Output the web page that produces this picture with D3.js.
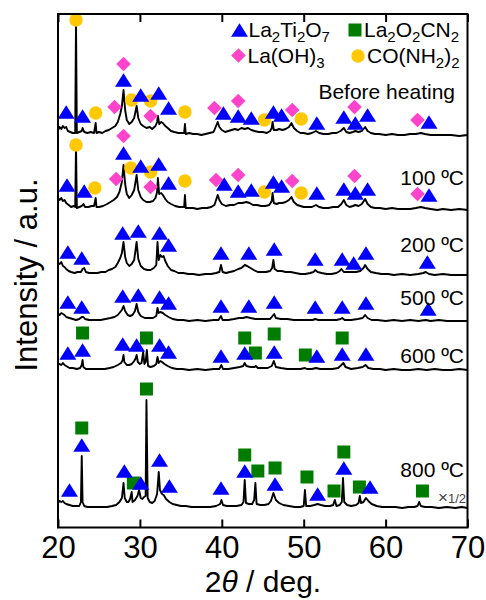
<!DOCTYPE html>
<head>
  <meta charset="utf-8">
  <title>XRD patterns</title>
  <style>
    body { margin: 0; background: #fff; }
    .axis .domain { display: none; }
    .axis line { stroke: #000; stroke-width: 2; }
    text { font-family: "Liberation Sans", Arial, sans-serif; fill: #000; }
  </style>
</head>
<body>
  <svg id="chart" width="486" height="600"></svg>
  <script src="https://d3js.org/d3.v7.min.js"></script>
  <script>
    /******* Data (2theta in deg, intensity in a.u. above each trace's own baseline) *******/

    var traceNames = ["Before heating", "100 ºC", "200 ºC", "500 ºC", "600 ºC", "800 ºC"];

    var beforeHeating = [[20.0,6],[20.2,9],[20.4,7],[20.6,10],[20.8,8],[21.0,9],[21.2,5],[21.5,4],[21.8,3],[22.1,3],[22.2,116],[22.3,3],[22.6,4],[22.9,5],[23.0,8],[23.2,4],[23.6,3],[24.0,4],[24.4,3],[24.6,13],[24.7,3],[25.0,4],[25.4,3],[25.8,5],[26.2,6],[26.6,8],[27.0,10],[27.3,14],[27.6,22],[27.8,30],[28.0,46],[28.2,26],[28.4,16],[28.7,12],[29.0,14],[29.3,18],[29.6,30],[29.8,18],[30.1,12],[30.4,10],[30.8,8],[31.2,9],[31.5,7],[31.9,10],[32.1,14],[32.2,20],[32.35,12],[32.6,14],[32.8,13],[33.1,10],[33.4,8],[33.8,5],[34.2,4],[34.7,3],[35.1,3],[35.4,3],[35.5,12],[35.6,2],[36.0,3],[36.5,2],[37.0,2],[37.5,1],[38.0,2],[38.5,3],[39.0,4],[39.3,10],[39.5,14],[39.7,9],[40.0,6],[40.4,4],[40.8,5],[41.2,6],[41.6,7],[42.0,6],[42.4,8],[42.8,7],[43.2,8],[43.6,6],[44.0,5],[44.5,4],[45.0,4],[45.5,3],[45.9,5],[46.1,8],[46.2,14],[46.35,6],[46.7,6],[47.0,7],[47.4,6],[47.8,7],[48.2,9],[48.5,13],[48.8,8],[49.2,5],[49.6,3],[50.0,3],[50.5,2],[51.0,3],[51.5,5],[51.9,3],[52.4,2],[53.0,2],[53.5,3],[54.0,3],[54.5,5],[54.9,8],[55.2,4],[55.6,3],[56.0,4],[56.3,5],[56.7,4],[57.1,5],[57.5,9],[57.8,5],[58.2,3],[58.7,2],[59.2,2],[60.0,1],[60.8,2],[61.5,1],[62.3,1],[63.0,2],[63.7,2],[64.3,3],[64.8,2],[65.5,1],[66.3,1],[67.0,1],[68.0,1],[69.0,0],[70.0,1]];

    var heated100 = [[20.0,12],[20.2,10],[20.4,12],[20.6,9],[20.8,10],[21.0,7],[21.3,5],[21.6,3],[21.9,4],[22.1,3],[22.2,65],[22.3,2],[22.6,3],[22.9,4],[23.1,6],[23.3,3],[23.7,3],[24.1,4],[24.4,4],[24.6,12],[24.7,3],[25.0,3],[25.5,4],[26.0,6],[26.4,8],[26.8,10],[27.2,13],[27.5,18],[27.8,28],[28.0,45],[28.2,26],[28.4,16],[28.7,12],[29.0,15],[29.3,20],[29.6,35],[29.8,20],[30.1,13],[30.4,10],[30.8,8],[31.2,8],[31.6,9],[31.9,12],[32.1,18],[32.2,32],[32.35,16],[32.6,17],[32.8,15],[33.1,11],[33.4,8],[33.8,6],[34.3,4],[34.8,3],[35.2,3],[35.4,3],[35.5,15],[35.6,2],[36.0,2],[36.5,2],[37.0,1],[37.6,2],[38.2,2],[38.7,3],[39.1,5],[39.3,10],[39.5,15],[39.7,10],[40.0,6],[40.5,4],[41.0,5],[41.5,5],[42.0,7],[42.5,7],[43.0,8],[43.4,7],[43.8,5],[44.3,5],[44.8,4],[45.3,4],[45.8,5],[46.1,9],[46.2,17],[46.35,7],[46.7,6],[47.0,7],[47.4,7],[47.8,8],[48.2,10],[48.5,13],[48.8,8],[49.2,5],[49.6,4],[50.0,3],[50.5,3],[51.0,3],[51.5,5],[51.9,3],[52.4,2],[53.0,2],[53.6,3],[54.2,3],[54.6,6],[54.9,10],[55.2,5],[55.6,3],[56.0,4],[56.3,5],[56.7,4],[57.1,6],[57.5,11],[57.8,6],[58.2,3],[58.7,2],[59.3,2],[60.0,1],[60.8,2],[61.5,1],[62.3,1],[63.0,1],[63.7,2],[64.3,3],[64.8,2],[65.5,1],[66.3,0],[67.0,1],[68.0,0],[69.0,1],[70.0,0]];

    var heated200 = [[20.0,12],[20.2,11],[20.4,13],[20.6,9],[20.8,8],[21.0,6],[21.3,4],[21.6,3],[22.0,2],[22.4,3],[22.8,3],[23.0,6],[23.2,7],[23.4,3],[23.8,2],[24.3,2],[24.8,2],[25.3,3],[25.8,3],[26.2,5],[26.6,6],[27.0,8],[27.3,12],[27.6,17],[27.8,22],[28.0,33],[28.2,18],[28.4,12],[28.7,9],[29.0,11],[29.3,15],[29.6,33],[29.8,16],[30.1,9],[30.5,6],[30.9,5],[31.3,5],[31.7,7],[32.0,10],[32.15,33],[32.3,15],[32.5,20],[32.7,18],[32.9,19],[33.1,14],[33.4,9],[33.8,5],[34.2,4],[34.7,2],[35.3,2],[35.9,1],[36.5,1],[37.2,0],[38.0,1],[38.7,1],[39.3,2],[39.7,3],[39.9,10],[40.1,3],[40.5,2],[41.0,3],[41.5,4],[42.0,6],[42.4,7],[42.8,10],[43.1,9],[43.5,7],[43.9,5],[44.4,3],[44.9,3],[45.4,3],[45.9,4],[46.15,7],[46.3,15],[46.45,6],[46.8,4],[47.3,4],[47.8,3],[48.4,3],[49.0,2],[49.6,1],[50.2,1],[50.8,2],[51.2,3],[51.4,5],[51.7,3],[52.2,2],[52.8,1],[53.4,1],[54.0,2],[54.4,4],[54.6,6],[54.9,3],[55.4,3],[55.9,3],[56.4,3],[56.9,4],[57.3,7],[57.5,10],[57.8,6],[58.2,3],[58.8,2],[59.5,1],[60.3,1],[61.0,0],[62.0,1],[63.0,0],[64.0,1],[64.6,2],[64.9,3],[65.3,1],[66.0,0],[67.0,1],[68.0,0],[69.0,0],[70.0,0]];

    var heated500 = [[20.0,8],[20.2,6],[20.4,8],[20.6,7],[20.8,6],[21.0,4],[21.4,3],[21.8,2],[22.2,1],[22.6,2],[22.9,4],[23.1,4],[23.3,2],[23.8,1],[24.5,1],[25.2,1],[25.8,2],[26.4,3],[26.9,4],[27.3,6],[27.6,9],[27.8,11],[28.0,15],[28.2,10],[28.5,6],[28.8,5],[29.1,6],[29.4,10],[29.6,17],[29.8,9],[30.1,5],[30.6,3],[31.1,3],[31.6,3],[32.0,5],[32.15,13],[32.3,8],[32.5,9],[32.8,8],[33.1,6],[33.5,4],[34.0,2],[34.6,1],[35.3,1],[36.0,0],[37.0,1],[38.0,0],[39.0,1],[39.6,1],[39.9,5],[40.1,1],[40.8,1],[41.5,2],[42.1,3],[42.6,3],[43.0,4],[43.5,3],[44.1,2],[44.8,2],[45.5,2],[45.9,2],[46.2,5],[46.4,7],[46.6,3],[47.2,2],[48.0,2],[48.8,1],[49.6,1],[50.4,1],[51.1,1],[51.4,2],[51.8,1],[52.5,1],[53.3,1],[54.0,1],[54.5,2],[54.7,3],[55.0,1],[55.8,1],[56.6,2],[57.2,3],[57.5,6],[57.8,3],[58.3,1],[59.0,1],[60.0,0],[61.0,1],[62.0,0],[63.0,1],[64.0,0],[64.9,1],[65.5,0],[66.5,1],[67.5,0],[68.5,0],[70.0,0]];

    var heated600 = [[20.0,5],[20.2,6],[20.4,5],[20.6,7],[20.8,5],[21.0,4],[21.4,2],[21.8,2],[22.3,1],[22.7,2],[22.9,5],[23.0,10],[23.1,3],[23.4,1],[23.9,1],[24.5,1],[25.1,1],[25.7,1],[26.3,2],[26.8,3],[27.3,5],[27.7,7],[27.9,10],[28.0,15],[28.1,8],[28.4,5],[28.7,5],[29.0,6],[29.3,9],[29.5,12],[29.6,15],[29.75,8],[30.0,6],[30.2,7],[30.4,18],[30.55,6],[30.7,8],[30.85,20],[31.0,4],[31.3,3],[31.7,4],[32.0,6],[32.15,13],[32.3,7],[32.5,9],[32.7,8],[33.0,6],[33.4,4],[33.9,2],[34.5,1],[35.2,1],[36.0,0],[37.0,1],[38.0,0],[39.0,1],[39.7,1],[39.95,5],[40.15,1],[40.8,1],[41.5,2],[42.2,3],[42.6,4],[42.8,7],[43.0,4],[43.5,3],[44.0,3],[44.15,4],[44.4,2],[45.0,2],[45.6,2],[46.1,4],[46.35,9],[46.6,3],[47.2,2],[48.0,1],[48.8,1],[49.6,1],[50.15,2],[50.4,1],[51.0,1],[51.5,2],[52.0,1],[52.8,1],[53.5,1],[54.2,2],[54.6,5],[54.85,7],[55.1,3],[55.8,1],[56.6,2],[57.2,3],[57.55,5],[57.9,2],[58.5,1],[59.3,1],[60.0,0],[61.0,1],[62.0,0],[63.0,0],[64.0,1],[65.0,0],[66.0,1],[67.0,0],[68.0,0],[69.0,1],[70.0,0]];

    var heated800 = [[20.0,5],[20.2,7],[20.4,6],[20.6,7],[20.8,5],[21.0,4],[21.4,3],[21.8,2],[22.2,2],[22.6,2],[22.8,6],[22.9,52],[23.0,6],[23.2,2],[23.6,1],[24.2,1],[24.8,1],[25.4,1],[26.0,1],[26.6,2],[27.1,3],[27.5,6],[27.8,10],[28.0,25],[28.15,10],[28.4,6],[28.6,6],[28.8,9],[29.0,16],[29.1,6],[29.4,8],[29.7,12],[29.9,18],[30.1,10],[30.3,9],[30.5,11],[30.7,12],[30.8,108],[30.95,10],[31.2,6],[31.5,5],[31.8,7],[32.1,14],[32.3,36],[32.45,18],[32.7,14],[32.9,13],[33.2,9],[33.6,6],[34.0,4],[34.5,3],[35.0,2],[35.6,2],[36.3,1],[37.0,1],[37.8,1],[38.6,1],[39.3,2],[39.8,4],[39.95,8],[40.15,3],[40.6,2],[41.2,2],[41.8,2],[42.4,3],[42.65,6],[42.8,28],[42.95,5],[43.3,4],[43.7,4],[43.95,8],[44.1,25],[44.25,4],[44.7,3],[45.2,3],[45.7,4],[46.0,7],[46.3,15],[46.6,8],[47.0,5],[47.5,3],[48.2,2],[48.9,1],[49.6,1],[50.0,2],[50.15,18],[50.3,2],[50.8,2],[51.3,3],[51.7,4],[52.1,3],[52.6,2],[53.2,2],[53.6,3],[53.8,8],[54.0,2],[54.4,3],[54.65,6],[54.8,30],[54.95,6],[55.3,3],[55.8,2],[56.4,3],[56.7,5],[56.85,12],[57.0,5],[57.3,6],[57.6,10],[57.9,7],[58.3,4],[58.9,2],[59.6,1],[60.4,1],[61.2,1],[62.0,0],[62.8,1],[63.5,1],[63.9,2],[64.1,6],[64.3,2],[64.8,1],[65.6,1],[66.5,0],[67.5,1],[68.5,0],[69.3,1],[70.0,0]];

    var traces = [beforeHeating, heated100, heated200, heated500, heated600, heated800];

    //vertical stacking of the traces (a.u.)
    var offsets = [391.5, 317.5, 252.5, 206.5, 157.5, 19.5];

    //phase markers per trace: [2theta, height above that trace's baseline]
    var tri = [ // La2Ti2O7
      [[21.0,24],[23.0,20],[28.0,56],[30.1,41],[32.3,43],[33.5,28],[40.2,23],[42.0,20],[43.6,18],[46.3,24],[47.3,21],[51.6,13],[54.9,19],[56.3,13],[57.8,21],[65.3,14]],
      [[21.1,25],[23.2,19],[28.0,57],[30.1,44],[32.3,46],[33.5,27],[40.3,26],[42.0,19],[43.6,20],[46.3,28],[47.3,24],[51.6,17],[54.9,21],[56.3,17],[57.8,21],[65.3,15]],
      [[21.2,23],[22.9,17],[27.9,42],[29.8,44],[32.4,42],[33.5,30],[39.9,22],[43.3,22],[46.4,26],[51.4,16],[54.7,16],[56.1,12],[57.6,22],[65.1,13]],
      [[21.2,19],[22.9,14],[27.9,25],[29.8,26],[32.4,24],[33.5,18],[39.9,15],[43.3,15],[46.4,19],[51.4,14],[54.7,14],[57.6,18],[65.2,12]],
      [[21.2,17],[23.0,20],[27.9,26],[29.6,25],[32.4,25],[33.5,18],[39.9,14],[42.8,17],[46.4,18],[51.6,14],[54.7,16],[57.6,16]],
      [[21.4,18],[22.9,63],[28.1,37],[30.1,25],[32.4,48],[33.6,22],[39.9,20],[42.8,37],[46.5,24],[51.7,14],[54.9,40],[58.1,21]]
    ];
    var sqr = [ // La2O2CN2
      [], [], [], [],
      [[23.0,37],[30.8,32],[42.8,32],[44.1,17],[46.4,36],[50.2,15],[54.7,32]],
      [[22.9,80],[29.2,25],[30.8,119],[42.8,53],[44.4,37],[46.5,40],[50.4,31],[53.7,17],[54.9,56],[56.8,21],[64.5,17]]
    ];
    var dia = [ // La(OH)3
      [[26.9,29],[28.0,72],[31.3,20],[39.1,28],[42.0,35],[48.6,26],[56.2,29],[63.9,16]],
      [[27.1,31],[28.0,74],[31.3,23],[39.3,30],[42.0,35],[48.6,29],[56.2,34],[63.9,16]],
      [], [], [], []
    ];
    var circ = [ // CO(NH2)2
      [[22.2,116],[24.6,23],[29.0,36],[31.3,35],[35.5,24],[45.2,16],[49.7,17]],
      [[22.2,65],[24.5,22],[28.9,42],[31.3,38],[35.5,29],[45.2,18],[49.7,17]],
      [], [], [], []
    ];

    var xTicks = [20, 30, 40, 50, 60, 70];

    /******* Setup *******/

    var svg = d3.select("svg"),
        frame = {left: 58, right: 467.5, top: 14, bottom: 527.5};

    var x = d3.scaleLinear().domain([20, 70]).range([frame.left, frame.right]);
    var y = d3.scaleLinear().domain([0, 513.5]).range([frame.bottom, frame.top]);

    var colors = {tri: "#0000ff", sqr: "#007d00", dia: "#ff44cc", circ: "#ffc800"};

    //marker shapes centred on their bounding box
    var shapes = {
      tri: "M0,-6.8L8.5,6.8L-8.5,6.8Z",
      sqr: "M-6.5,-6.5H6.5V6.5H-6.5Z",
      dia: "M0,-7.3L7.3,0L0,7.3L-7.3,0Z",
      circ: "M6.7,0A6.7,6.7 0 1,1 -6.7,0A6.7,6.7 0 1,1 6.7,0Z"
    };

    /******* Traces *******/

    var line = d3.line()
      .x(function(d) { return x(d[0]); })
      .y(function(d) { return y(d[1]); });

    svg.append("g")
      .selectAll("path")
      .data(traces)
      .enter().append("path")
      .attr("fill", "none")
      .attr("stroke", "#000")
      .attr("stroke-width", 1.9)
      .attr("stroke-linejoin", "round")
      .attr("d", function(d, i) {
        return line(d.map(function(p) { return [p[0], p[1] + offsets[i]]; }));
      });

    /******* Markers *******/

    function drawMarkers(sets, kind) {
      sets.forEach(function(set, i) {
        svg.append("g").selectAll("path")
          .data(set)
          .enter().append("path")
          .attr("d", shapes[kind])
          .attr("fill", colors[kind])
          .attr("transform", function(d) {
            return "translate(" + x(d[0]) + "," + y(d[1] + offsets[i]) + ")";
          });
      });
    }
    drawMarkers(dia, "dia");
    drawMarkers(circ, "circ");
    drawMarkers(sqr, "sqr");
    drawMarkers(tri, "tri");

    /******* Trace labels *******/

    var labelY = [99, 185, 252, 305, 363, 477];
    svg.append("g")
      .selectAll("text")
      .data(traceNames)
      .enter().append("text")
      .attr("x", function(d, i) { return i == 0 ? 455 : 464; })
      .attr("y", function(d, i) { return labelY[i]; })
      .attr("text-anchor", "end")
      .attr("font-size", 21)
      .text(function(d) { return d; });

    var half = svg.append("text")
      .attr("x", 466)
      .attr("y", 503)
      .attr("text-anchor", "end")
      .style("fill", "#444")
      .attr("font-size", 17);
    half.append("tspan").text("×");
    half.append("tspan").attr("font-size", 13).text("1/2");

    /******* Legend *******/

    var legendItems = [
      {kind: "tri", x: 239.5, y: 30, parts: [["La", 0], ["2", 1], ["Ti", 0], ["2", 1], ["O", 0], ["7", 1]]},
      {kind: "sqr", x: 355, y: 30, parts: [["La", 0], ["2", 1], ["O", 0], ["2", 1], ["CN", 0], ["2", 1]]},
      {kind: "dia", x: 238.5, y: 55.5, parts: [["La(OH)", 0], ["3", 1]]},
      {kind: "circ", x: 358, y: 56, parts: [["CO(NH", 0], ["2", 1], [")", 0], ["2", 1]]}
    ];

    legendItems.forEach(function(item) {
      svg.append("path")
        .attr("d", shapes[item.kind])
        .attr("fill", colors[item.kind])
        .attr("transform", "translate(" + item.x + "," + item.y + ")");

      var t = svg.append("text")
        .attr("x", item.x + 9)
        .attr("y", item.y + 7)
        .attr("font-size", 21);
      var sub = false;
      item.parts.forEach(function(p) {
        var ts = t.append("tspan").text(p[0]);
        if (p[1] && !sub) { ts.attr("font-size", 15).attr("dy", 5); sub = true; }
        else if (!p[1] && sub) { ts.attr("dy", -5); sub = false; }
        else if (p[1]) { ts.attr("font-size", 15); }
      });
    });

    /******* Axes and frame *******/

    svg.append("g")
      .attr("class", "axis")
      .attr("transform", "translate(0," + frame.bottom + ")")
      .call(d3.axisBottom(x).tickValues(xTicks).tickSize(-8).tickPadding(8).tickFormat(d3.format("d")))
      .call(function(g) {
        g.selectAll("text")
          .attr("font-size", 31)
          .style("font-family", "'Liberation Sans', Arial, sans-serif")
          .attr("fill", "#000");
      });

    svg.append("g")
      .attr("class", "axis")
      .attr("transform", "translate(0," + frame.top + ")")
      .call(d3.axisTop(x).tickValues(xTicks).tickSize(-8).tickFormat(""));

    svg.append("rect")
      .attr("x", frame.left)
      .attr("y", frame.top)
      .attr("width", frame.right - frame.left)
      .attr("height", frame.bottom - frame.top)
      .attr("fill", "none")
      .attr("stroke", "#000")
      .attr("stroke-width", 2);

    var xTitle = svg.append("text")
      .attr("x", 263)
      .attr("y", 592)
      .attr("text-anchor", "middle")
      .attr("font-size", 30);
    xTitle.append("tspan").text("2");
    xTitle.append("tspan").attr("font-style", "italic").text("θ");
    xTitle.append("tspan").text(" / deg.");

    svg.append("text")
      .attr("transform", "translate(37,275) rotate(-90)")
      .attr("text-anchor", "middle")
      .attr("font-size", 31)
      .text("Intensity / a.u.");
  </script>
</body>
